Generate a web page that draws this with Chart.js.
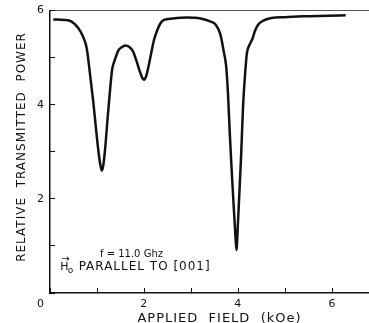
<!DOCTYPE html>
<html>
<head>
<meta charset="utf-8">
<script src="https://cdn.jsdelivr.net/npm/chart.js@4.4.1/dist/chart.umd.min.js"></script>
<style>
  html, body { margin: 0; padding: 0; background: #fff; overflow: hidden; }
</style>
</head>
<body>
<canvas id="power" width="400" height="323"></canvas>
<script>
// applied field (kOe) and relative transmitted power
const fieldKOe = [0.07, 0.30, 0.45, 0.60, 0.70, 0.78, 0.85, 0.92, 0.98, 1.03, 1.07, 1.10, 1.13, 1.17, 1.22, 1.27,
  1.32, 1.38, 1.45, 1.52, 1.60, 1.68, 1.76, 1.84, 1.91, 1.96, 2.00, 2.04, 2.09, 2.15, 2.21, 2.27, 2.34, 2.42,
  2.60, 2.90, 3.20, 3.40, 3.52, 3.62, 3.69, 3.74, 3.78, 3.82, 3.86, 3.90, 3.93, 3.96, 3.99, 4.02, 4.06, 4.10,
  4.14, 4.18, 4.24, 4.30, 4.35, 4.42, 4.52, 4.70, 5.00, 5.40, 5.90, 6.28];
const transmitted = [5.81, 5.80, 5.77, 5.63, 5.45, 5.20, 4.65, 4.05, 3.46, 3.00, 2.72, 2.60, 2.70, 3.05, 3.67, 4.25,
  4.75, 4.96, 5.15, 5.22, 5.26, 5.23, 5.14, 4.92, 4.70, 4.57, 4.53, 4.60, 4.80, 5.10, 5.38, 5.56, 5.72, 5.80,
  5.83, 5.85, 5.83, 5.77, 5.70, 5.49, 5.13, 4.83, 4.24, 3.36, 2.58, 1.87, 1.35, 0.91, 1.45, 2.08, 2.94, 3.96,
  4.60, 5.08, 5.28, 5.40, 5.56, 5.70, 5.78, 5.84, 5.86, 5.88, 5.89, 5.90];
const xLabelled = [2, 4, 6];
const yLabelled = [2, 4, 6];

const ink = '#111';
const face = "'DejaVu Sans', sans-serif";

// wide hand-lettered look for the axis titles
const spacing = {
  id: 'spacing',
  beforeDraw(chart) { chart.ctx.letterSpacing = '1px'; }
};

// text written inside the plot (frequency and field direction)
const notes = {
  id: 'notes',
  afterDatasetsDraw(chart) {
    const ctx = chart.ctx;
    const x = chart.scales.x, y = chart.scales.y;
    ctx.save();
    ctx.fillStyle = ink;
    ctx.textBaseline = 'alphabetic';
    ctx.letterSpacing = '0px';

    ctx.font = '10px ' + face;
    ctx.textAlign = 'center';
    ctx.fillText('f = 11.0 Ghz', x.getPixelForValue(1.73), y.getPixelForValue(0.77));

    const left = x.getPixelForValue(0.22), base = y.getPixelForValue(0.48);
    ctx.textAlign = 'left';
    ctx.font = '11px ' + face;
    ctx.fillText('H', left, base);
    const wH = ctx.measureText('H').width;
    ctx.font = '10px ' + face;
    ctx.textAlign = 'center';
    ctx.fillText('\u2192', left + wH / 2 + 1, base - 8);
    ctx.font = '9px ' + face;
    ctx.textAlign = 'left';
    ctx.fillText('o', left + wH - 1, base + 3);
    ctx.font = '12px ' + face;
    ctx.letterSpacing = '1px';
    ctx.fillText('PARALLEL TO [001]', left + wH + 10, base);
    ctx.restore();
  }
};

new Chart(document.getElementById('power'), {
  type: 'line',
  data: {
    datasets: [{
      data: fieldKOe.map((f, i) => ({x: f, y: transmitted[i]})),
      borderColor: ink,
      borderWidth: 2.5,
      pointRadius: 0,
      cubicInterpolationMode: 'monotone',
      fill: false
    }]
  },
  options: {
    responsive: false,
    animation: false,
    layout: {padding: {top: 5, left: 0, right: 0, bottom: 0}},
    plugins: {legend: {display: false}, tooltip: {enabled: false}},
    scales: {
      x: {
        type: 'linear', position: 'bottom', min: 0, max: 7.2,
        afterFit: s => { s.height = 30; },
        border: {color: ink, width: 1.5},
        grid: {drawOnChartArea: false, tickLength: -5, color: ink},
        ticks: {
          stepSize: 1, padding: 11, color: ink, font: {family: face, size: 11, lineHeight: 1},
          maxRotation: 0, autoSkip: false,
          callback: v => v === 0 ? '0' + '\u00a0'.repeat(4) : (xLabelled.includes(v) ? String(v) : '')
        },
        title: {display: true, text: 'APPLIED  FIELD  (kOe)', color: ink,
          font: {family: face, size: 13, lineHeight: 1}, padding: {top: 0, bottom: -2}}
      },
      y: {
        type: 'linear', position: 'left', min: 0, max: 6,
        afterFit: s => { s.width = 50; },
        border: {color: ink, width: 1.5},
        grid: {
          drawOnChartArea: true, tickLength: -5, tickColor: ink,
          color: c => c.tick && c.tick.value === 6 ? '#555' : 'rgba(0,0,0,0)'
        },
        ticks: {
          stepSize: 1, padding: 10, color: ink, font: {family: face, size: 11, lineHeight: 0.1},
          callback: v => yLabelled.includes(v) ? String(v) : ''
        },
        title: {display: true, text: '\u00a0\u00a0RELATIVE  TRANSMITTED  POWER', color: ink,
          font: {family: face, size: 12, lineHeight: 1.2}, padding: {top: 15, bottom: 0}}
      }
    }
  },
  plugins: [spacing, notes]
});
</script>
</body>
</html>
